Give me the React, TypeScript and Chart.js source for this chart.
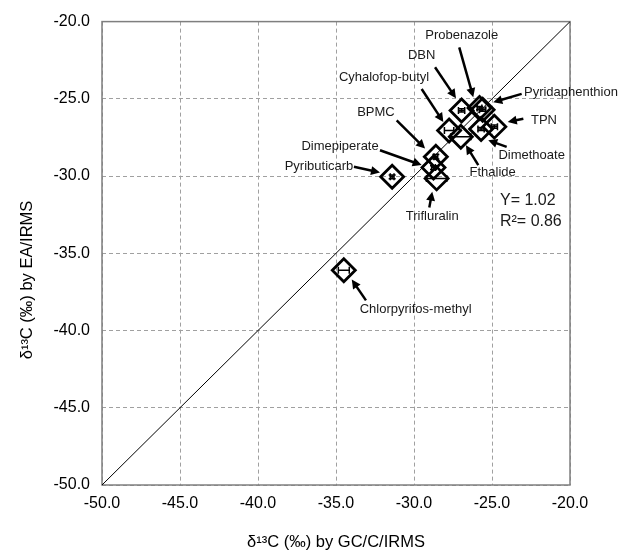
import React, { useEffect, useRef } from 'react';
import { Chart, registerables } from 'chart.js';

Chart.register(...registerables);

const compounds = [
  'Chlorpyrifos-methyl', 'Pyributicarb', 'Dimepiperate', 'BPMC', 'Trifluralin',
  'Cyhalofop-butyl', 'Fthalide', 'DBN', 'Probenazole', 'Pyridaphenthion', 'Dimethoate', 'TPN',
];
const gcValues = [-34.5, -31.4, -28.75, -28.6, -28.55, -27.75, -27.0, -26.95, -25.8, -25.6, -25.7, -24.85];
const eaValues = [-36.1, -30.05, -29.45, -28.75, -30.15, -27.05, -27.45, -25.75, -25.6, -25.7, -26.95, -26.8];
const gcErrors = [0.35, 0.12, 0.12, 0.12, 0.65, 0.3, 0.65, 0.2, 0.15, 0.2, 0.2, 0.2];
const eaErrors = [0, 0.12, 0.12, 0.15, 0, 0, 0, 0.1, 0.1, 0.1, 0.1, 0.1];
const axisMin = -50;
const axisMax = -20;
const axisStep = 5;
const identityLine = [-50, -20];
const xTitle = '\u03B4\u00B9\u00B3C (\u2030) by GC/C/IRMS';
const yTitle = '\u03B4\u00B9\u00B3C (\u2030) by EA/IRMS';
const slopeText = 'Y= 1.02';
const r2Text = 'R\u00B2= 0.86';
const statsX = -24.49;
const slopeY = -31.59;
const r2Y = -32.94;

// callout label text position and arrow tail -> head, in data units
const calloutText = compounds;
const calloutTextX = [-29.89, -36.09, -34.74, -32.44, -28.83, -31.92, -24.96, -29.51, -26.94, -19.94, -22.46, -21.67];
const calloutTextY = [-38.63, -29.36, -28.11, -25.86, -32.62, -23.61, -29.77, -22.17, -20.88, -24.57, -28.69, -26.39];
const arrowFromX = [-33.08, -33.85, -32.18, -31.11, -29.02, -29.51, -25.88, -28.65, -27.10, -23.10, -24.06, -22.99];
const arrowFromY = [-38.05, -29.40, -28.33, -26.39, -32.04, -24.36, -29.29, -22.96, -21.67, -24.68, -28.11, -26.29];
const arrowToX = [-33.99, -32.18, -29.51, -29.29, -28.83, -28.12, -26.67, -27.31, -26.20, -24.92, -25.24, -23.99];
const arrowToY = [-36.70, -29.77, -29.29, -28.22, -31.01, -26.50, -28.00, -24.96, -24.89, -25.22, -27.68, -26.50];

const FONT = '"Liberation Sans", Arial, Helvetica, sans-serif';

const overlayPlugin = {
  id: 'overlay',
  beforeDatasetsDraw(chart: any) {
    const { ctx, chartArea } = chart;
    ctx.save();
    ctx.strokeStyle = '#7f7f7f';
    ctx.lineWidth = 1.5;
    ctx.strokeRect(chartArea.left, chartArea.top, chartArea.right - chartArea.left, chartArea.bottom - chartArea.top);
    ctx.restore();
  },
  afterDatasetsDraw(chart: any) {
    const { ctx } = chart;
    const xs = chart.scales.x;
    const ys = chart.scales.y;
    ctx.save();
    // error bars
    ctx.strokeStyle = '#000';
    ctx.lineWidth = 1.5;
    const cap = 3.5;
    for (let i = 0; i < gcValues.length; i++) {
      const px = xs.getPixelForValue(gcValues[i]);
      const py = ys.getPixelForValue(eaValues[i]);
      if (gcErrors[i] > 0) {
        const x1 = xs.getPixelForValue(gcValues[i] - gcErrors[i]);
        const x2 = xs.getPixelForValue(gcValues[i] + gcErrors[i]);
        ctx.beginPath();
        ctx.moveTo(x1, py); ctx.lineTo(x2, py);
        ctx.moveTo(x1, py - cap); ctx.lineTo(x1, py + cap);
        ctx.moveTo(x2, py - cap); ctx.lineTo(x2, py + cap);
        ctx.stroke();
      }
      if (eaErrors[i] > 0) {
        const y1 = ys.getPixelForValue(eaValues[i] - eaErrors[i]);
        const y2 = ys.getPixelForValue(eaValues[i] + eaErrors[i]);
        ctx.beginPath();
        ctx.moveTo(px, y1); ctx.lineTo(px, y2);
        ctx.moveTo(px - cap, y1); ctx.lineTo(px + cap, y1);
        ctx.moveTo(px - cap, y2); ctx.lineTo(px + cap, y2);
        ctx.stroke();
      }
    }
    // callouts
    ctx.font = `13px ${FONT}`;
    ctx.textAlign = 'center';
    ctx.textBaseline = 'middle';
    for (let i = 0; i < calloutText.length; i++) {
      ctx.fillStyle = '#1a1a1a';
      ctx.fillText(calloutText[i], xs.getPixelForValue(calloutTextX[i]), ys.getPixelForValue(calloutTextY[i]));
      const fx = xs.getPixelForValue(arrowFromX[i]);
      const fy = ys.getPixelForValue(arrowFromY[i]);
      const tx = xs.getPixelForValue(arrowToX[i]);
      const ty = ys.getPixelForValue(arrowToY[i]);
      const ang = Math.atan2(ty - fy, tx - fx);
      const headLen = 9;
      const headW = 4.5;
      const bx = tx - Math.cos(ang) * headLen;
      const by = ty - Math.sin(ang) * headLen;
      ctx.strokeStyle = '#000';
      ctx.lineWidth = 2.5;
      ctx.beginPath();
      ctx.moveTo(fx, fy);
      ctx.lineTo(bx + Math.cos(ang) * 2, by + Math.sin(ang) * 2);
      ctx.stroke();
      ctx.fillStyle = '#000';
      ctx.beginPath();
      ctx.moveTo(tx, ty);
      ctx.lineTo(bx - Math.sin(ang) * headW, by + Math.cos(ang) * headW);
      ctx.lineTo(bx + Math.sin(ang) * headW, by - Math.cos(ang) * headW);
      ctx.closePath();
      ctx.fill();
    }
    // stats
    ctx.fillStyle = '#1a1a1a';
    ctx.font = `16px ${FONT}`;
    ctx.textAlign = 'left';
    ctx.fillText(slopeText, xs.getPixelForValue(statsX), ys.getPixelForValue(slopeY));
    ctx.fillText(r2Text, xs.getPixelForValue(statsX), ys.getPixelForValue(r2Y));
    // y axis title, centred on the full canvas height
    ctx.font = `16.5px ${FONT}`;
    ctx.translate(27, chart.height / 2 + 3);
    ctx.rotate(-Math.PI / 2);
    ctx.textAlign = 'center';
    ctx.fillStyle = '#000';
    ctx.fillText(yTitle, 0, 0);
    ctx.restore();
  },
};

export default function App() {
  const canvasRef = useRef<HTMLCanvasElement | null>(null);

  useEffect(() => {
    document.body.style.margin = '0';
    const canvas = canvasRef.current;
    if (!canvas) return;
    const chart = new Chart(canvas, {
      type: 'scatter',
      data: {
        datasets: [
          {
            type: 'line',
            label: '1:1',
            data: identityLine.map((v) => ({ x: v, y: v })),
            borderColor: '#000',
            borderWidth: 1,
            pointRadius: 0,
            fill: false,
          } as any,
          {
            type: 'scatter',
            label: 'compounds',
            data: gcValues.map((v, i) => ({ x: v, y: eaValues[i] })),
            pointStyle: 'rectRot',
            radius: 11.5,
            borderWidth: 2.8,
            borderColor: '#000',
            backgroundColor: 'rgba(0,0,0,0)',
          },
        ],
      },
      options: {
        responsive: false,
        animation: false,
        layout: { padding: { left: 0, top: 19, right: 60, bottom: 0 } },
        plugins: { legend: { display: false }, tooltip: { enabled: false } },
        scales: {
          x: {
            type: 'linear',
            min: axisMin,
            max: axisMax,
            afterFit: (s: any) => { s.height = 69; },
            ticks: {
              stepSize: axisStep,
              padding: 9,
              color: '#000',
              font: { family: FONT, size: 16 },
              callback: (v: any) => Number(v).toFixed(1),
            },
            grid: { color: '#a0a0a0', drawTicks: false, lineWidth: 1 },
            border: { display: false, dash: [4, 3] },
            title: {
              display: true,
              text: xTitle,
              color: '#000',
              font: { family: FONT, size: 16.5 },
              padding: { top: 0, bottom: 2 },
            },
          },
          y: {
            type: 'linear',
            min: axisMin,
            max: axisMax,
            afterFit: (s: any) => { s.width = 102; },
            ticks: {
              stepSize: axisStep,
              padding: 12,
              color: '#000',
              font: { family: FONT, size: 16 },
              callback: (v: any) => Number(v).toFixed(1),
            },
            grid: { color: '#a0a0a0', drawTicks: false, lineWidth: 1 },
            border: { display: false, dash: [4, 3] },
            title: { display: false },
          },
        },
      },
      plugins: [overlayPlugin],
    });
    return () => chart.destroy();
  }, []);

  return (
    <div style={{ width: 630, height: 554 }}>
      <canvas ref={canvasRef} width={630} height={554} />
    </div>
  );
}
